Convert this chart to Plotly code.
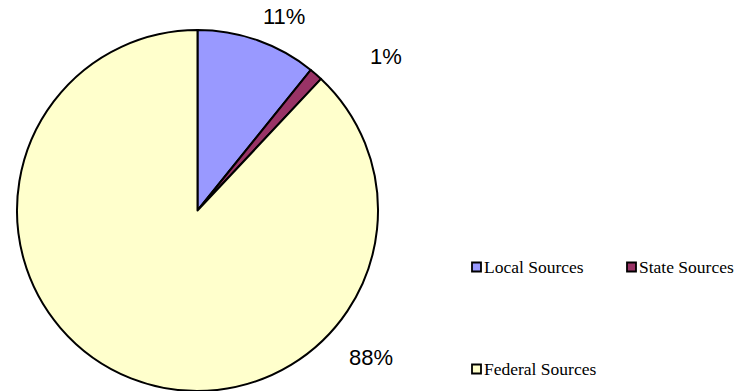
import plotly.graph_objects as go

categories = ["Local Sources", "State Sources", "Federal Sources"]
values = [10.8, 1.2, 88.0]
colors = ["#9999FF", "#993366", "#FFFFCC"]

W, H = 754, 391

def px(x):
    return x / W

def py(y):
    return 1 - y / H

fig = go.Figure()
fig.add_trace(go.Pie(
    labels=categories, values=values, sort=False, direction="clockwise", rotation=0,
    marker=dict(colors=colors, line=dict(color="black", width=2)),
    textinfo="none", hoverinfo="label+percent", showlegend=False,
    domain=dict(x=[px(17), px(378)], y=[0, 361 / H]),
))

total = sum(values)
pct = [f"{round(v / total * 100)}%" for v in values]
label_pos = [(284, 16), (386, 56), (371, 357)]
annotations = []
for t, (x, y) in zip(pct, label_pos):
    annotations.append(dict(text=t, x=px(x), y=py(y), xref="paper", yref="paper",
                            showarrow=False, xanchor="center", yanchor="middle",
                            font=dict(family="Liberation Sans, Arial", size=22, color="black")))

legend_pos = [(472, 267), (627, 267), (472, 369)]
shapes = []
for name, col, (x, y) in zip(categories, colors, legend_pos):
    shapes.append(dict(type="rect", xref="paper", yref="paper",
                       x0=px(x), x1=px(x + 9), y0=py(y - 4.5), y1=py(y + 4.5),
                       fillcolor=col, line=dict(color="black", width=1.8)))
    annotations.append(dict(text=name, x=px(x + 10), y=py(y), xref="paper", yref="paper",
                            showarrow=False, xanchor="left", yanchor="middle",
                            font=dict(family="Liberation Serif, Times New Roman", size=17.5, color="black")))

fig.update_layout(
    width=W, height=H, margin=dict(l=0, r=0, t=0, b=0),
    paper_bgcolor="white", plot_bgcolor="white",
    annotations=annotations, shapes=shapes, showlegend=False,
)

fig.write_html("out.html")
